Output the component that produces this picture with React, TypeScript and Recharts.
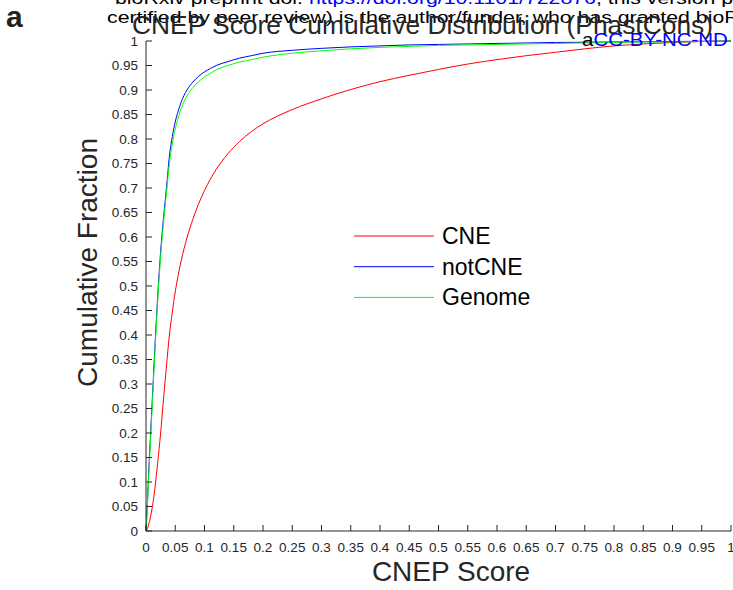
import React from 'react';
import { LineChart, Line, XAxis, YAxis } from 'recharts';

// CNEP score grid (x) and cumulative fractions
const scoreGrid = [
  0, 0.0025, 0.005, 0.0075, 0.01, 0.015, 0.02, 0.025, 0.03, 0.035, 0.04, 0.045, 0.05, 0.055,
  0.06, 0.07, 0.08, 0.09, 0.1, 0.11, 0.12, 0.14, 0.16, 0.18, 0.2, 0.25, 0.3, 0.35, 0.4,
  0.45, 0.5, 0.55, 0.6, 0.65, 0.7, 0.75, 0.8, 0.85, 0.9, 0.95, 1,
];
const cneFraction = [
  0, 0.005, 0.015, 0.028, 0.043, 0.085, 0.14, 0.2, 0.27, 0.337, 0.4, 0.447, 0.488, 0.522,
  0.551, 0.598, 0.636, 0.668, 0.695, 0.718, 0.738, 0.77, 0.795, 0.815, 0.831, 0.86, 0.882, 0.901, 0.917,
  0.93, 0.942, 0.953, 0.962, 0.97, 0.977, 0.984, 0.99, 0.994, 0.997, 0.999, 1,
];
const notCneFraction = [
  0, 0.06, 0.13, 0.19, 0.25, 0.37, 0.48, 0.57, 0.64, 0.7, 0.765, 0.805, 0.835, 0.857,
  0.875, 0.9, 0.916, 0.928, 0.937, 0.944, 0.95, 0.958, 0.965, 0.97, 0.975, 0.981, 0.985, 0.988, 0.99,
  0.992, 0.993, 0.994, 0.995, 0.996, 0.997, 0.9975, 0.998, 0.9985, 0.999, 0.9995, 1,
];
const genomeFraction = [
  0, 0.055, 0.12, 0.18, 0.24, 0.36, 0.47, 0.56, 0.63, 0.69, 0.75, 0.79, 0.82, 0.843,
  0.862, 0.888, 0.905, 0.917, 0.927, 0.934, 0.941, 0.95, 0.957, 0.962, 0.967, 0.975, 0.98, 0.984, 0.987,
  0.989, 0.991, 0.992, 0.993, 0.994, 0.995, 0.996, 0.997, 0.998, 0.998, 0.999, 1,
];

const scoreTicks = [
  0, 0.05, 0.1, 0.15, 0.2, 0.25, 0.3, 0.35, 0.4, 0.45, 0.5,
  0.55, 0.6, 0.65, 0.7, 0.75, 0.8, 0.85, 0.9, 0.95, 1,
];
const fractionTicks = [
  0, 0.05, 0.1, 0.15, 0.2, 0.25, 0.3, 0.35, 0.4, 0.45, 0.5,
  0.55, 0.6, 0.65, 0.7, 0.75, 0.8, 0.85, 0.9, 0.95, 1,
];

const seriesNames = ['CNE', 'notCNE', 'Genome'];
const seriesColors = ['#ff0000', '#0000ff', '#00ff00'];

const data = scoreGrid.map((s, i) => ({
  score: s,
  CNE: cneFraction[i],
  notCNE: notCneFraction[i],
  Genome: genomeFraction[i],
}));

const font = 'Arial, "Liberation Sans", Helvetica, sans-serif';
const axisColor = '#262626';
const fmt = (v: number) => String(Number(v.toFixed(2)));
const blank = () => '';

export default function App() {
  return (
    <div style={{ position: 'absolute', left: 0, top: 0, width: 733, height: 590, background: '#fff', overflow: 'hidden' }}>
      <LineChart
        width={733}
        height={590}
        data={data}
        margin={{ top: 41, right: 2, bottom: 29, left: 86 }}
        style={{ fontFamily: font }}
      >
        <XAxis
          xAxisId="bottom"
          dataKey="score"
          type="number"
          domain={[0, 1]}
          ticks={scoreTicks}
          tickFormatter={fmt}
          interval={0}
          height={30}
          tickSize={-6}
          tickMargin={17}
          stroke={axisColor}
          tick={{ fill: axisColor, fontSize: 13.5 }}
        />
        <XAxis
          xAxisId="top"
          orientation="top"
          dataKey="score"
          type="number"
          domain={[0, 1]}
          ticks={scoreTicks}
          tickFormatter={blank}
          interval={0}
          height={0}
          tickSize={-6}
          stroke={axisColor}
        />
        <YAxis
          yAxisId="left"
          type="number"
          domain={[0, 1]}
          ticks={fractionTicks}
          tickFormatter={fmt}
          interval={0}
          width={60}
          tickSize={-6}
          tickMargin={14}
          stroke={axisColor}
          tick={{ fill: axisColor, fontSize: 13.5 }}
        />
        <YAxis
          yAxisId="right"
          orientation="right"
          type="number"
          domain={[0, 1]}
          ticks={fractionTicks}
          tickFormatter={blank}
          interval={0}
          width={0}
          tickSize={-6}
          stroke={axisColor}
        />
        {seriesNames.map((n, i) => (
          <Line
            key={n}
            xAxisId="bottom"
            yAxisId="left"
            dataKey={n}
            type="monotone"
            stroke={seriesColors[i]}
            strokeWidth={1}
            dot={false}
            isAnimationActive={false}
          />
        ))}
      </LineChart>

      <svg
        width={733}
        height={590}
        style={{ position: 'absolute', left: 0, top: 0, pointerEvents: 'none', overflow: 'hidden' }}
      >
        {/* legend */}
        <g transform="translate(354,236)">
          {seriesNames.map((n, i) => (
            <g key={n}>
              <line x1={0} x2={80} y1={i * 30.7} y2={i * 30.7} stroke={seriesColors[i]} strokeWidth={1} />
              <text x={88} y={i * 30.7 + 8} fontSize={23} fontFamily={font} fill="#000">{n}</text>
            </g>
          ))}
        </g>

        <text x={6} y={27} fontSize={30} fontWeight="bold" fontFamily={font} fill="#222">a</text>
        <g transform="translate(115,3.5) scale(1.29,1)">
          <text x={0} y={0} fontSize={16.5} fontFamily={font} fill="#000">
            bioRxiv preprint doi: <tspan fill="#0000ff">https://doi.org/10.1101/722876</tspan>; this version p
          </text>
        </g>
        <g transform="translate(107,23.3) scale(1.29,1)">
          <text x={0} y={0} fontSize={16.5} fontFamily={font} fill="#000">
            certified by peer review) is the author/funder, who has granted bioR
          </text>
        </g>
        <text
          x={132}
          y={33.5}
          fontSize={26}
          fontFamily={font}
          fill="#262626"
          textLength={581}
          lengthAdjust="spacingAndGlyphs"
        >
          CNEP Score Cumulative Distribution (PhastCons)
        </text>
        <g transform="translate(582,46) scale(1.17,1)">
          <text x={0} y={0} fontSize={17.5} fontFamily={font} fill="#000">
            a<tspan fill="#0000ff">CC-BY-NC-ND</tspan>
          </text>
        </g>
        <text
          x={451}
          y={581}
          fontSize={28}
          fontFamily={font}
          fill="#262626"
          textAnchor="middle"
        >
          CNEP Score
        </text>
        <text
          transform="translate(97,262.5) rotate(-90)"
          fontSize={28}
          fontFamily={font}
          fill="#262626"
          textAnchor="middle"
        >
          Cumulative Fraction
        </text>
      </svg>
    </div>
  );
}
